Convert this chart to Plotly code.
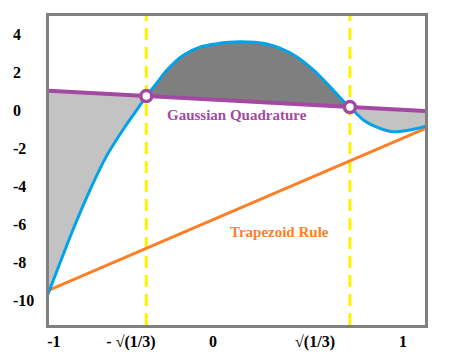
import plotly.graph_objects as go

# ---- data ----
curve_x = [-1.0, -0.864, -0.776, -0.688, -0.600, -0.539, -0.479, -0.416, -0.371, -0.284,
           -0.196, -0.108, 0.015, 0.156, 0.226, 0.314, 0.402, 0.490, 0.560, 0.595,
           0.666, 0.754, 0.824, 0.912, 1.0]
curve_y = [-9.75, -6.25, -4.2, -2.4, -1.0, -0.13, 0.73, 1.53, 2.1, 2.9,
           3.32, 3.5, 3.60, 3.49, 3.27, 2.82, 2.12, 1.24, 0.49, 0.17,
           -0.51, -0.95, -1.13, -1.04, -0.83]

gauss_x = [-1.0, 1.0]
gauss_y = [1.03, -0.04]

trap_x = [-1.0, 1.0]
trap_y = [-9.5, -0.93]

node_x = [-0.479, 0.595]   # Gaussian nodes (as drawn)
node_y = [0.75, 0.17]

xtick_vals = [-0.966, -0.560, -0.127, 0.411, 0.875]
xtick_text = ["-1", "- √(1/3)", "0", "√(1/3)", "1"]
ytick_vals = [4, 2, 0, -2, -4, -6, -8, -10]

X_RANGE = [-0.992, 0.991]
Y_RANGE = [-11.3, 4.96]

BLUE = "#00A2E8"
PURPLE = "#A349A4"
ORANGE = "#FF7F27"
YELLOW = "#FFF200"
LIGHT = "#C3C3C3"
DARK = "#7F7F7F"
FONT = "Liberation Serif, Times New Roman, Times, serif"


def line_at(x):
    x0, x1 = gauss_x
    y0, y1 = gauss_y
    return y0 + (y1 - y0) * (x - x0) / (x1 - x0)


fig = go.Figure()

# shaded regions between curve and Gaussian line
bounds = [curve_x[0]] + node_x + [curve_x[-1]]
colors = [LIGHT, DARK, LIGHT]
for i in range(3):
    a, b = bounds[i], bounds[i + 1]
    idx = [k for k, xv in enumerate(curve_x) if a - 1e-9 <= xv <= b + 1e-9]
    sx = [curve_x[k] for k in idx]
    sy = [curve_y[k] for k in idx]
    fig.add_trace(go.Scatter(x=[a, b], y=[line_at(a), line_at(b)], mode="lines",
                             line=dict(width=0, color=colors[i]), showlegend=False,
                             hoverinfo="skip"))
    fig.add_trace(go.Scatter(x=sx, y=sy, mode="lines", fill="tonexty",
                             fillcolor=colors[i],
                             line=dict(width=0, shape="spline", smoothing=0.8),
                             showlegend=False, hoverinfo="skip"))

# yellow dashed verticals
for xv in node_x:
    fig.add_trace(go.Scatter(x=[xv, xv], y=Y_RANGE, mode="lines",
                             line=dict(color=YELLOW, width=3, dash="12px,7px"),
                             showlegend=False))

# trapezoid line
fig.add_trace(go.Scatter(x=trap_x, y=trap_y, mode="lines",
                         line=dict(color=ORANGE, width=3), showlegend=False))
# Gaussian line
fig.add_trace(go.Scatter(x=gauss_x, y=gauss_y, mode="lines",
                         line=dict(color=PURPLE, width=4), showlegend=False))
# function curve
fig.add_trace(go.Scatter(x=curve_x, y=curve_y, mode="lines",
                         line=dict(color=BLUE, width=3, shape="spline", smoothing=0.8),
                         showlegend=False))
# nodes
fig.add_trace(go.Scatter(x=node_x, y=node_y, mode="markers",
                         marker=dict(symbol="circle", size=11, color="white",
                                     line=dict(color=PURPLE, width=3.5)),
                         showlegend=False))

annotations = [
    dict(x=0.002, y=-0.25, xref="x", yref="y", text="Gaussian Quadrature", showarrow=False,
         font=dict(family=FONT, size=15, color=PURPLE, weight="bold")),
    dict(x=0.225, y=-6.4, xref="x", yref="y", text="Trapezoid Rule", showarrow=False,
         font=dict(family=FONT, size=15, color=ORANGE, weight="bold")),
]
for v in ytick_vals:
    annotations.append(dict(x=0, y=v, xref="paper", yref="y", xanchor="left", xshift=-38,
                            text=str(v), showarrow=False,
                            font=dict(family=FONT, size=16, color="black", weight="bold")))

fig.update_layout(
    width=466, height=363,
    margin=dict(l=49, r=41, t=16, b=38),
    paper_bgcolor="white", plot_bgcolor="white",
    showlegend=False,
    annotations=annotations,
    xaxis=dict(range=X_RANGE, showgrid=False, zeroline=False, showline=True, mirror=True,
               linecolor="#808080", linewidth=3, ticks="", tickmode="array",
               tickvals=xtick_vals, ticktext=xtick_text,
               tickfont=dict(family=FONT, size=16, color="black", weight="bold")),
    yaxis=dict(range=Y_RANGE, showgrid=False, zeroline=False, showline=True, mirror=True,
               linecolor="#808080", linewidth=3, ticks="", showticklabels=False),
)

fig.write_html("out.html", config={"displayModeBar": False},
               post_script="document.body.style.margin='0px';")
